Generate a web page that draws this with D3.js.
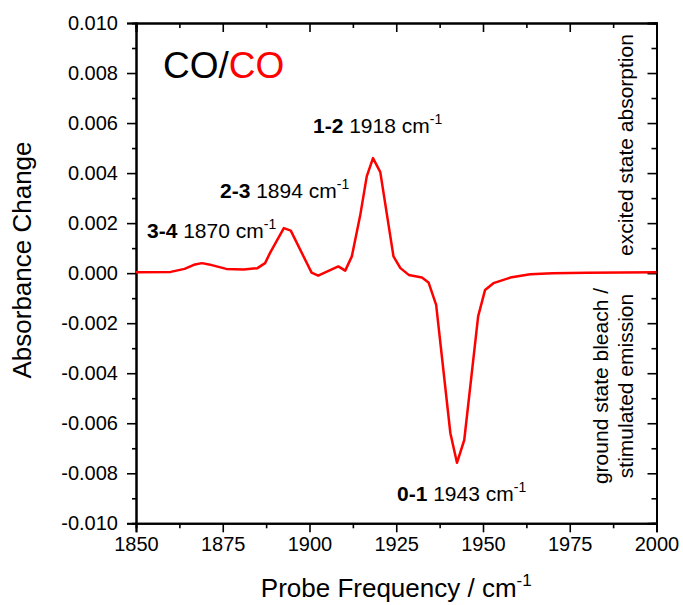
<!DOCTYPE html>
<html lang="en">
<head>
<meta charset="UTF-8">
<title>CO/CO</title>
<script src="https://cdn.jsdelivr.net/npm/d3@7"></script>
<style>
  body { margin: 0; background: #fff; }
  text { font-family: "Liberation Sans", Arial, sans-serif; fill: #000; }
</style>
</head>
<body>
<div id="chart"></div>
<script>
// spectrum
var freq = [1850, 1860, 1864, 1867, 1869, 1871, 1876, 1881, 1885, 1887.2, 1888.6, 1892.6, 1894.6,
            1900.6, 1902.5, 1908.3, 1910.3, 1912.2, 1914.6, 1916.5, 1918.3, 1920.4, 1924.2, 1926.2,
            1928.6, 1932.4, 1934.3, 1936.5, 1940.6, 1942.5, 1944.6, 1948.6, 1950.6, 1953, 1958.3,
            1963.6, 1970, 1980, 1990, 2000];
var absorb = [0.00004, 0.00005, 0.00017, 0.00035, 0.0004, 0.00035, 0.00017, 0.00015, 0.0002, 0.0004,
              0.0008, 0.0018, 0.0017, 0.00002, -0.0001, 0.00027, 0.0001, 0.00067, 0.0023, 0.00387,
              0.0046, 0.00404, 0.00067, 0.0002, -0.00007, -0.00017, -0.00037, -0.00127, -0.0064,
              -0.00758, -0.00667, -0.00173, -0.00067, -0.0004, -0.00016, -0.00004, 0.0, 0.00002,
              0.00003, 0.00004];

var xTicks = [1850, 1875, 1900, 1925, 1950, 1975, 2000];
var yTicks = [0.010, 0.008, 0.006, 0.004, 0.002, 0.000, -0.002, -0.004, -0.006, -0.008, -0.010];

// peak labels: transition, frequency
var peakNames = ["3-4", "2-3", "1-2", "0-1"];
var peakFreq = [1870, 1894, 1918, 1943];

var width = 683, height = 605;
var pLeft = 136, pTop = 23, pRight = 656.5, pBottom = 523.3;

var svg = d3.select("#chart").append("svg")
    .attr("width", width)
    .attr("height", height);

var x = d3.scaleLinear().domain([1850, 2000]).range([pLeft, pRight]);
var y = d3.scaleLinear().domain([-0.010, 0.010]).range([pBottom, pTop]);

var xMinor = d3.range(1850, 2000.1, 12.5).filter(function (d) { return d % 25 !== 0; });
var yMinor = d3.range(-0.009, 0.0095, 0.002);

// bottom axis (ticks outward)
svg.append("g").attr("transform", "translate(0," + pBottom + ")")
    .call(d3.axisBottom(x).tickValues(xTicks).tickSize(9).tickPadding(5).tickFormat(d3.format("d")));
svg.append("g").attr("transform", "translate(0," + pBottom + ")")
    .call(d3.axisBottom(x).tickValues(xMinor).tickSize(5).tickFormat(""));
// top axis (ticks inward)
svg.append("g").attr("transform", "translate(0," + pTop + ")")
    .call(d3.axisTop(x).tickValues(xTicks).tickSize(-9).tickFormat(""));
svg.append("g").attr("transform", "translate(0," + pTop + ")")
    .call(d3.axisTop(x).tickValues(xMinor).tickSize(-5).tickFormat(""));
// left axis (ticks outward)
svg.append("g").attr("transform", "translate(" + pLeft + ",0)")
    .call(d3.axisLeft(y).tickValues(yTicks).tickSize(9).tickPadding(9).tickFormat(d3.format(".3f")));
svg.append("g").attr("transform", "translate(" + pLeft + ",0)")
    .call(d3.axisLeft(y).tickValues(yMinor).tickSize(4).tickFormat(""));
// right axis (ticks inward)
svg.append("g").attr("transform", "translate(" + pRight + ",0)")
    .call(d3.axisRight(y).tickValues(yTicks).tickSize(-9).tickFormat(""));
svg.append("g").attr("transform", "translate(" + pRight + ",0)")
    .call(d3.axisRight(y).tickValues(yMinor).tickSize(-5).tickFormat(""));

svg.selectAll(".domain").attr("stroke", "#000").attr("stroke-width", 2);
svg.selectAll(".tick line").attr("stroke", "#000").attr("stroke-width", 1.6);
svg.selectAll(".tick text").attr("font-size", 20).attr("fill", "#000")
    .style("font-family", '"Liberation Sans", Arial, sans-serif');
svg.selectAll(".tick text").text(function () {
    return this.textContent.replace("\u2212", "-");
});

// the spectrum
var line = d3.line()
    .x(function (d, i) { return x(freq[i]); })
    .y(function (d) { return y(d); });

svg.append("path")
    .datum(absorb)
    .attr("d", line)
    .attr("fill", "none")
    .attr("stroke", "#ff0000")
    .attr("stroke-width", 2.5)
    .attr("stroke-linejoin", "round");

// axis titles
var xt = svg.append("text")
    .attr("x", (pLeft + pRight) / 2)
    .attr("y", 597)
    .attr("text-anchor", "middle")
    .attr("font-size", 26)
    .text("Probe Frequency / cm");
xt.append("tspan").attr("font-size", 17).attr("dy", -11).text("-1");

svg.append("text")
    .attr("transform", "translate(31,260) rotate(-90)")
    .attr("text-anchor", "middle")
    .attr("font-size", 26)
    .text("Absorbance Change");

// CO/CO title
var t = svg.append("text")
    .attr("x", 163)
    .attr("y", 78)
    .attr("font-size", 37);
t.append("tspan").text("CO/");
t.append("tspan").attr("fill", "#ff0000").style("fill", "#ff0000").text("CO");

// peak annotations
var labelX = [147, 220, 313, 397];
var labelY = [238, 198, 133, 501];
peakNames.forEach(function (name, i) {
    var lab = svg.append("text")
        .attr("x", labelX[i])
        .attr("y", labelY[i])
        .attr("font-size", 21);
    lab.append("tspan").attr("font-weight", "bold").text(name);
    lab.append("tspan").text(" " + peakFreq[i] + " cm");
    lab.append("tspan").attr("font-size", 14).attr("dy", -9).text("-1");
});

// side notes
svg.append("text")
    .attr("transform", "translate(633,145) rotate(-90)")
    .attr("text-anchor", "middle")
    .attr("font-size", 21)
    .text("excited state absorption");

svg.append("text")
    .attr("transform", "translate(608,386) rotate(-90)")
    .attr("text-anchor", "middle")
    .attr("font-size", 21)
    .text("ground state bleach /");

svg.append("text")
    .attr("transform", "translate(633,386) rotate(-90)")
    .attr("text-anchor", "middle")
    .attr("font-size", 21)
    .text("stimulated emission");
</script>
</body>
</html>
